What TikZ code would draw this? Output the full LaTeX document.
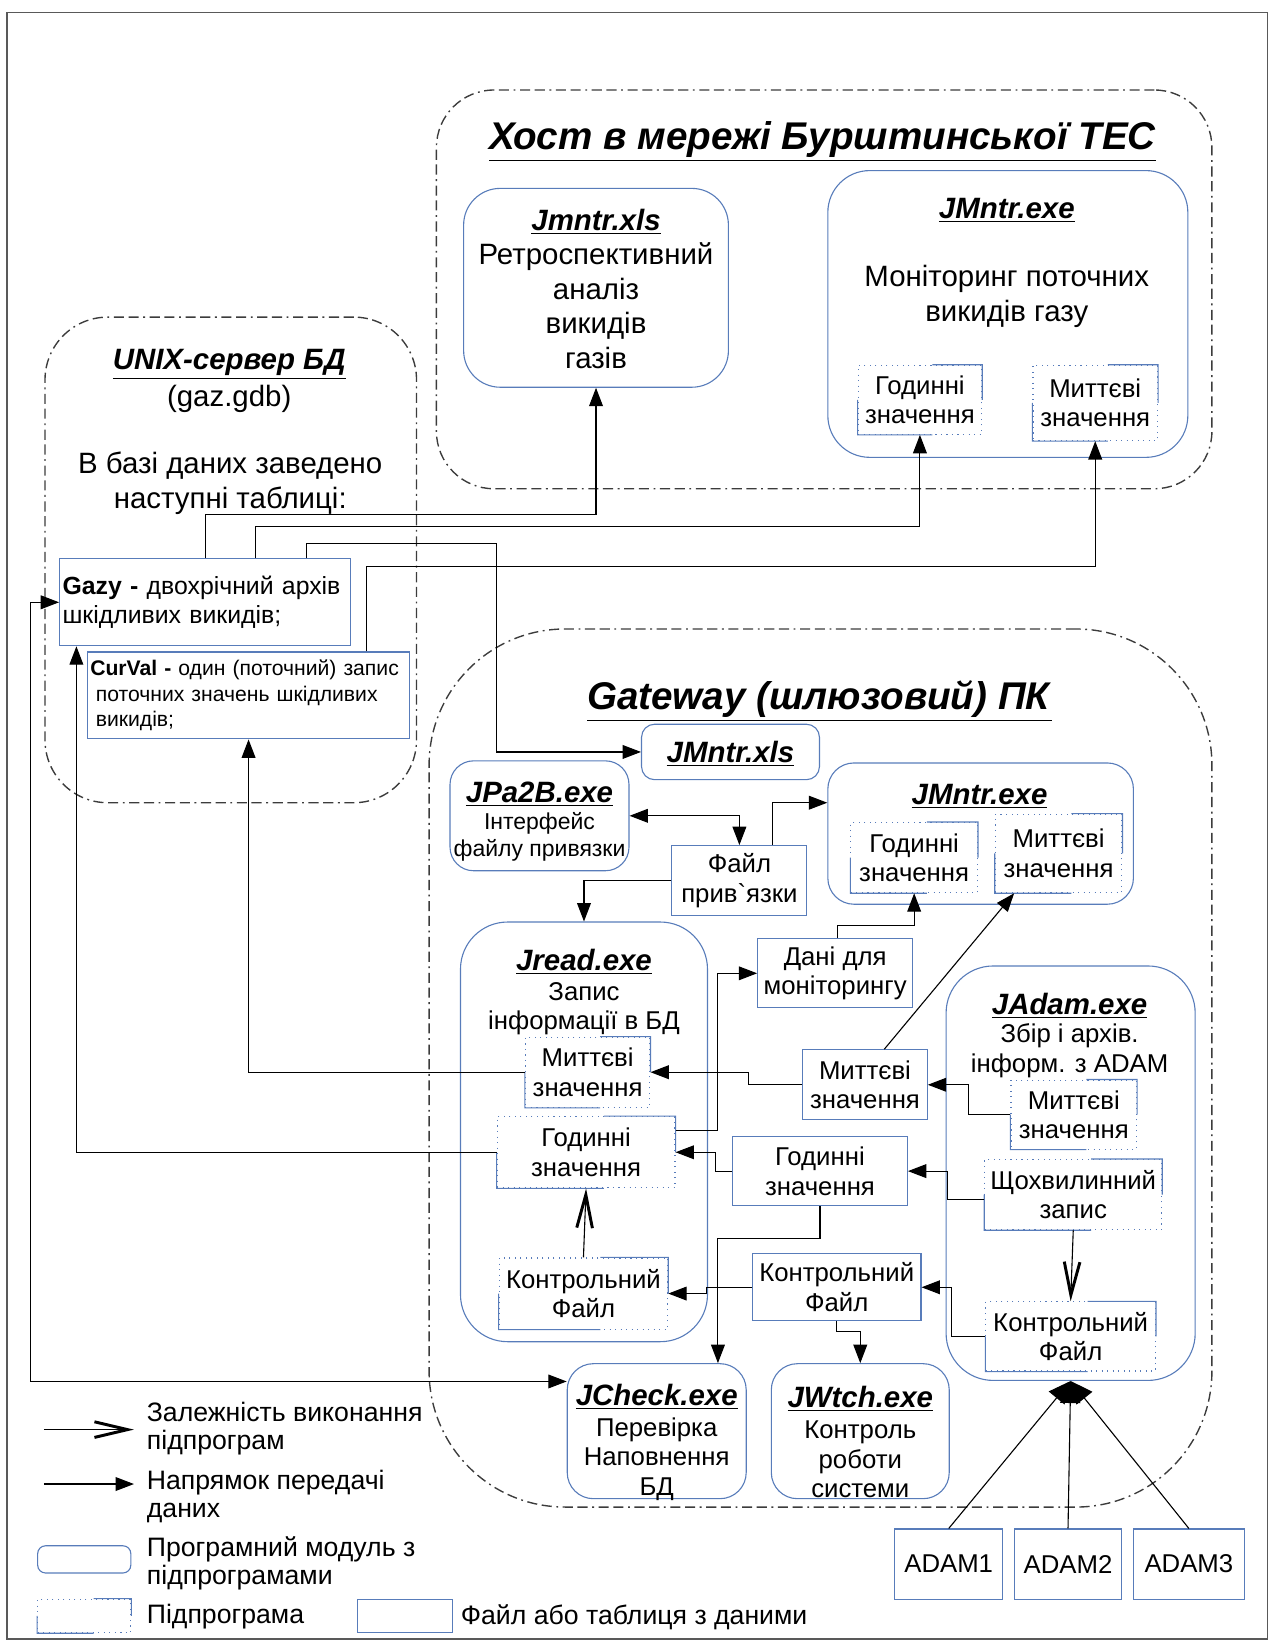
\documentclass[tikz,border=0pt]{standalone}
\usepackage{fontspec}
\setmainfont{Liberation Sans}
\newfontfamily\plainfont{Liberation Sans}
\usetikzlibrary{arrows.meta,calc}
\definecolor{boxblue}{RGB}{88,124,186}
\definecolor{zonegray}{RGB}{60,60,60}
\newcommand\fbig{\fontsize{21}{24}\selectfont}
\newcommand\fmid{\fontsize{16}{18.8}\selectfont}
\newcommand\fsub{\fontsize{14}{16}\selectfont}
\newcommand\fsmall{\fontsize{11.5}{13.7}\selectfont}
\newcommand\fleg{\fontsize{14.5}{15.5}\selectfont}
\newcommand\ttl[1]{\underline{\textbf{\textit{#1}}}}

\begin{document}
\begin{tikzpicture}[x=0.02cm,y=-0.02cm]
\tikzset{boxsize/.style 2 args={minimum width=#1*0.02cm, minimum height=#2*0.02cm},
  zone/.style={draw=zonegray, line width=0.75pt, dash pattern=on 5.5pt off 2.5pt on 5.5pt off 2.5pt on 1pt off 2.5pt, inner sep=0pt},
  module/.style={draw=boxblue, line width=0.6pt, inner sep=0pt, align=center, font=\fsub},
  datafile/.style={draw=boxblue, line width=0.6pt, inner sep=0pt, align=center, font=\fsub},
  subprog/.style={draw=boxblue, line width=0.6pt, dash pattern=on 0.6pt off 2.4pt, inner sep=0pt, align=center, font=\fsub},
  boxline/.style={draw=boxblue, line width=0.6pt},
  txt/.style={align=center, inner sep=0pt},
  arr/.style={line width=0.6pt, -{Triangle[length=10pt,width=7.5pt]}},
  bigarr/.style={line width=0.6pt, -{Triangle[length=12pt,width=11pt]}},
  arrboth/.style={line width=0.6pt, {Triangle[length=10pt,width=7.5pt]}-{Triangle[length=10pt,width=7.5pt]}},
  dep/.style={line width=0.6pt, -{Straight Barb[length=18pt,width=8.5pt,line width=1.6pt]}}}
\useasboundingbox (0,0) rectangle (1214,1568);
\draw[line width=0.9pt, gray!70!black] (7,12) rectangle (1211,1566);

\node[zone, rounded corners=1.1cm, boxsize={741}{381}] (Host) at (787.5,276.5) {};
\node[zone, rounded corners=1.2cm, boxsize={355}{464}] (Unix) at (220.5,535) {};
\node[zone, rounded corners=2.6cm, boxsize={748}{839}] (Gate) at (784,1020.5) {};
\node[txt, font=\fbig] (HostT) at (786,135) {\ttl{Хост в мережі Бурштинської ТЕС}};
\node[txt, font=\fmid] (UnixT) at (219,348) {\ttl{UNIX-сервер БД}};
\node[txt, font=\fmid] (UnixG) at (219,381) {(gaz.gdb)};
\node[txt, font=\fmid] (UnixD) at (220,462) {В базі даних заведено\\наступні таблиці:};
\node[txt, font=\fbig] (GateT) at (783,670) {\ttl{Gateway (шлюзовий) ПК}};

\node[module, rounded corners=0.7cm, boxsize={253}{190}] (Xls1) at (569.5,275) {};
\node[txt, font=\fmid] (Xls1T) at (569.5,276) {\ttl{Jmntr.xls}\\Ретроспективний\\аналіз\\викидів\\газів};
\node[module, rounded corners=0.8cm, boxsize={344}{274}] (Mn1) at (963,300) {};
\node[txt, font=\fmid] (Mn1T) at (962,201) {\ttl{JMntr.exe}};
\node[txt, font=\fmid] (Mn1D) at (962,283) {Моніторинг поточних\\викидів газу};
\node[subprog, boxsize={118}{66}] (HGod) at (879,382) {Годинні\\значення};
\node[subprog, boxsize={119}{72}] (HMit) at (1046.5,385) {Миттєві\\значення};

\node[datafile, boxsize={278}{83}, font=\fontsize{13.5}{16}\selectfont, align=left, text width=5.45cm] (Gazy) at (196,575.5) {\textbf{Gazy -} двохрічний архів\\ шкідливих викидів;};
\node[datafile, boxsize={307}{83}, font=\fsmall, align=left, text width=6.05cm] (CurVal) at (237.5,664.5) {\textbf{CurVal -} один (поточний) запис\\\hspace*{3pt}поточних значень шкідливих\\\hspace*{3pt}викидів;};

\node[module, rounded corners=0.25cm, boxsize={170}{53}] (Xls2) at (698,718.5) {};
\node[txt, font=\fmid] (Xls2T) at (698,720) {\ttl{JMntr.xls}};
\node[module, rounded corners=0.45cm, boxsize={171}{105}] (Pa2B) at (515.5,779.5) {};
\node[txt, font=\fontsize{12.5}{14.5}\selectfont] (Pa2BT) at (515.5,785) {{\fmid\ttl{JPa2B.exe}}\\Інтерфейс\\файлу привязки};
\node[datafile, boxsize={129}{67}] (FPriv) at (706.5,841.5) {Файл\\прив{\plainfont`}язки};
\node[module, rounded corners=0.5cm, boxsize={292}{135}] (Mn2) at (937,796.5) {};
\node[txt, font=\fmid] (Mn2T) at (936,761) {\ttl{JMntr.exe}};
\node[subprog, boxsize={121}{67}] (GGod) at (873.5,819.5) {Годинні\\значення};
\node[subprog, boxsize={121}{75}] (GMit) at (1011.5,815.5) {Миттєві\\значення};

\node[module, rounded corners=0.9cm, boxsize={236}{401}] (JRead) at (558,1081.5) {};
\node[txt, font=\fmid] (JReadT) at (558,919) {\ttl{Jread.exe}};
\node[txt, font=\fsub] (JReadD) at (558,964) {Запис\\інформації в БД};
\node[subprog, boxsize={119}{67}] (JMit) at (561.5,1024.5) {Миттєві\\значення};
\node[subprog, boxsize={170}{68}] (JGod) at (560,1101) {Годинні\\значення};
\node[subprog, boxsize={161}{68}] (JKf) at (557.5,1236) {Контрольний\\Файл};
\node[datafile, boxsize={148}{66}] (Dani) at (798,930) {Дані для\\моніторингу};

\node[module, rounded corners=0.9cm, boxsize={238}{396}] (JAdam) at (1023,1121) {};
\node[txt, font=\fmid] (JAdamT) at (1022,961) {\ttl{JAdam.exe}};
\node[txt, font=\fsub] (JAdamD) at (1022,1004) {Збір і архів.\\інформ. з ADAM};
\node[subprog, boxsize={120}{66}] (AMit) at (1026,1065) {Миттєві\\значення};
\node[subprog, boxsize={169}{67}] (AMin) at (1025.5,1141.5) {Щохвилинний\\запис};
\node[subprog, boxsize={162}{66}] (AKf) at (1023,1277) {Контрольний\\Файл};

\node[datafile, boxsize={119}{67}] (Mit) at (826.5,1036.5) {Миттєві\\значення};
\node[datafile, boxsize={167}{66}] (God) at (783.5,1119) {Годинні\\значення};
\node[datafile, boxsize={161}{64}] (Kf) at (799.5,1230) {Контрольний\\Файл};
\node[module, rounded corners=0.5cm, boxsize={171}{129}] (JCheck) at (627.5,1367.5) {};
\node[txt, font=\fsub] (JCheckT) at (627.5,1378) {{\fmid\ttl{JCheck.exe}}\\[1pt]Перевірка\\Наповнення\\БД};
\node[module, rounded corners=0.5cm, boxsize={170}{129}] (JWtch) at (822,1367.5) {};
\node[txt, font=\fsub] (JWtchT) at (822,1378) {{\fmid\ttl{JWtch.exe}}\\[1pt]Контроль\\роботи\\системи};
\node[datafile, boxsize={103}{67}] (Adam1) at (906.5,1494.5) {ADAM1};
\node[datafile, boxsize={103}{67}] (Adam2) at (1020.5,1494.5) {ADAM2};
\node[datafile, boxsize={106}{67}] (Adam3) at (1136,1494.5) {ADAM3};

\coordinate (L1a) at (42,1366);
\coordinate (L1b) at (128,1366);
\coordinate (L2a) at (42,1418);
\coordinate (L2b) at (128,1418);
\node[txt, anchor=west, align=left, font=\fleg] (L1) at (140,1365) {Залежність виконання\\підпрограм};
\node[txt, anchor=west, align=left, font=\fleg] (L2) at (140,1430) {Напрямок передачі\\даних};
\node[module, rounded corners=0.15cm, boxsize={89}{26}] (LMod) at (80.5,1490) {};
\node[txt, anchor=west, align=left, font=\fleg] (L3) at (140,1494) {Програмний модуль з\\підпрограмами};
\node[subprog, boxsize={89}{32}] (LSub) at (80.5,1544) {};
\node[txt, anchor=west, font=\fleg] (L4) at (140,1545) {Підпрограма};
\node[datafile, boxsize={90}{32}] (LFile) at (387,1544) {};
\node[txt, anchor=west, font=\fleg] (L5) at (440,1545) {Файл або таблиця з даними};

\foreach \n in {HGod,HMit,GGod,GMit,JMit,JGod,JKf,AMit,AMin,AKf,LSub}{
  \draw[boxline] ($(\n.north west)!0.6!(\n.north east)$) -- (\n.north east) -- ($(\n.north east)!0.5!(\n.south east)$);
  \draw[boxline] ($(\n.south east)!0.4!(\n.south west)$) -- (\n.south west) -- ($(\n.south west)!0.5!(\n.north west)$);
}

\draw[dep] (L1a) -- (L1b);
\draw[arr] (L2a) -- (L2b);
\draw[arr] (Gazy.north -| 196,0) -- ++(0,-42) -| (Xls1.south);
\draw[arr] (Gazy.north -| 244,0) -- ++(0,-30) -| (HGod.south);
\draw[arr] (Gazy.north -| 293,0) |- (474,519) |- (Xls2.west);
\draw[arr] (CurVal.north -| 350,0) -- ++(0,-81) -| (HMit.south);
\draw[arrboth] (Gazy.west) -- ++(-27,0) |- (JCheck.west |- 0,1320);
\draw[arr] (JGod.west) -| (Gazy.south -| 73,0);
\draw[arr] (JMit.west) -| (CurVal.south);
\draw[arrboth] (Pa2B.east) -| (FPriv.north);
\draw[arr] (FPriv.north -| 738,0) |- (Mn2.west |- 0,767);
\draw[arr] (FPriv.west) -| (JRead.north);
\draw[arr] (Dani.north -| 800,0) -- ++(0,-12) -| (GGod.south);
\draw[arr] (JGod.east |- 0,1080) -- ++(40,0) |- (Dani.west);
\draw[arr] (Mit.north -| 845,0) -- (GMit.south -| 969,0);
\draw[arr] (Mit.west) -- ++(-51,0) |- (JMit.east);
\draw[arr] (AMit.west) -- ++(-40,0) |- (Mit.east);
\draw[arr] (God.west) -- ++(-16,0) |- (JGod.east);
\draw[arr] (AMin.west |- 0,1146) -- ++(-35,0) |- (God.east);
\draw[arr] (God.south) -- ++(0,31) -| (JCheck.north -| 686,0);
\draw[arr] (Kf.west) -- ++(-43,0) |- (JKf.east);
\draw[arr] (Kf.south) -- ++(0,10) -| (JWtch.north);
\draw[arr] (AKf.west) -- ++(-32,0) |- (Kf.east);
\draw[dep] (AMin.south) -- (AKf.north);
\draw[dep] (JKf.north) -- (JGod.south);
\draw[bigarr] (Adam1.north) -- (JAdam.south);
\draw[bigarr] (Adam2.north) -- (JAdam.south);
\draw[bigarr] (Adam3.north) -- (JAdam.south);
\end{tikzpicture}
\end{document}
